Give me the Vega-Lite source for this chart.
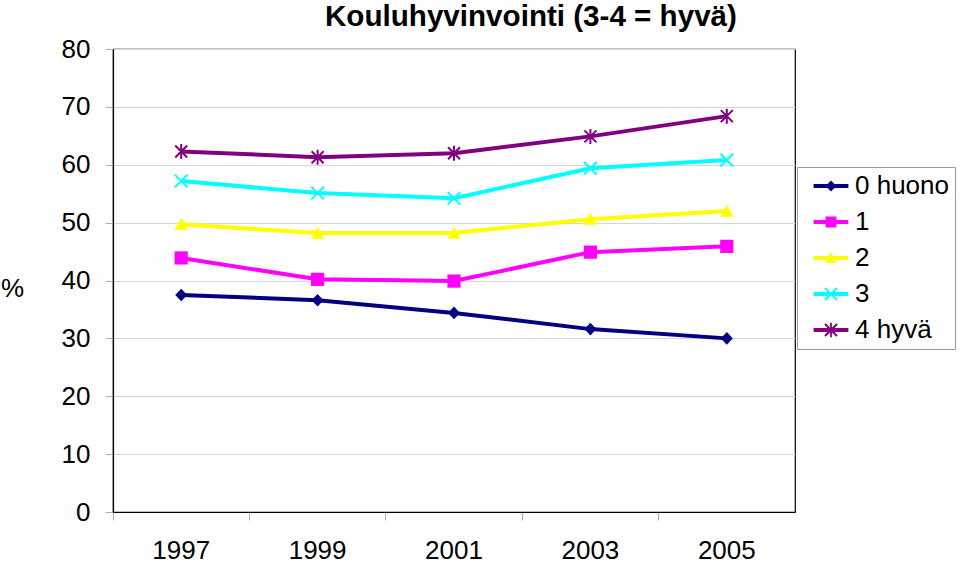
{
  "$schema": "https://vega.github.io/schema/vega-lite/v6.json",
  "autosize": {"type": "none"},
  "width": 682,
  "height": 463,
  "padding": {"left": 113, "top": 49, "right": 165, "bottom": 50},
  "background": "white",
  "title": {
    "text": "Kouluhyvinvointi (3-4 = hyvä)",
    "anchor": "start",
    "frame": "group",
    "dx": 212,
    "dy": 31,
    "offset": 11,
    "baseline": "alphabetic",
    "font": "Liberation Sans",
    "fontSize": 29.6,
    "fontWeight": "bold",
    "color": "#000"
  },
  "config": {
    "view": {"stroke": "#000", "strokeWidth": 1.2},
    "font": "Liberation Sans"
  },
  "data": {
    "values": [
      {"year": "1997", "series": "0 huono", "value": 37.5},
      {"year": "1999", "series": "0 huono", "value": 36.6},
      {"year": "2001", "series": "0 huono", "value": 34.4},
      {"year": "2003", "series": "0 huono", "value": 31.6},
      {"year": "2005", "series": "0 huono", "value": 30.0},
      {"year": "1997", "series": "1", "value": 43.9},
      {"year": "1999", "series": "1", "value": 40.2},
      {"year": "2001", "series": "1", "value": 39.9},
      {"year": "2003", "series": "1", "value": 44.9},
      {"year": "2005", "series": "1", "value": 45.9},
      {"year": "1997", "series": "2", "value": 49.7},
      {"year": "1999", "series": "2", "value": 48.2},
      {"year": "2001", "series": "2", "value": 48.2},
      {"year": "2003", "series": "2", "value": 50.6},
      {"year": "2005", "series": "2", "value": 52.0},
      {"year": "1997", "series": "3", "value": 57.2},
      {"year": "1999", "series": "3", "value": 55.1},
      {"year": "2001", "series": "3", "value": 54.2},
      {"year": "2003", "series": "3", "value": 59.4},
      {"year": "2005", "series": "3", "value": 60.8},
      {"year": "1997", "series": "4 hyvä", "value": 62.3},
      {"year": "1999", "series": "4 hyvä", "value": 61.3},
      {"year": "2001", "series": "4 hyvä", "value": 62.0},
      {"year": "2003", "series": "4 hyvä", "value": 64.9},
      {"year": "2005", "series": "4 hyvä", "value": 68.4}
    ]
  },
  "encoding": {
    "x": {
      "field": "year",
      "type": "ordinal",
      "bandPosition": 0.5,
      "scale": {"type": "band", "paddingInner": 0, "paddingOuter": 0},
      "axis": {
        "title": null,
        "labelAngle": 0,
        "bandPosition": 0,
        "labelFontSize": 26,
        "labelColor": "#000",
        "labelPadding": 17,
        "tickColor": "#b0b0b0",
        "tickSize": 8,
        "domainColor": "#000",
        "domainWidth": 1.2,
        "grid": false
      }
    },
    "y": {
      "field": "value",
      "type": "quantitative",
      "scale": {"domain": [0, 80], "nice": false, "zero": true},
      "axis": {
        "values": [0, 10, 20, 30, 40, 50, 60, 70, 80],
        "title": "%",
        "titleAngle": 0,
        "titleX": -101,
        "titleY": 239,
        "titleAlign": "center",
        "titleBaseline": "middle",
        "titleFontSize": 26,
        "titleFontWeight": "normal",
        "titleColor": "#000",
        "labelFontSize": 26,
        "labelColor": "#000",
        "labelPadding": 15,
        "tickColor": "#b0b0b0",
        "tickSize": 8,
        "domainColor": "#000",
        "domainWidth": 1.2,
        "grid": true,
        "gridColor": "#d4d4d4",
        "gridWidth": 1.2
      }
    }
  },
  "layer": [
    {
      "transform": [{"filter": "datum.series === '0 huono'"}],
      "mark": {"type": "line", "strokeWidth": 4, "color": "#000080",
        "point": {"filled": true, "opacity": 1, "shape": "M0,-1.05L1,0L0,1.05L-1,0Z", "size": 144, "color": "#000080"}}
    },
    {
      "transform": [{"filter": "datum.series === '1'"}],
      "mark": {"type": "line", "strokeWidth": 4, "color": "#FF00FF",
        "point": {"filled": true, "opacity": 1, "shape": "M-1.1,-1.1L1.1,-1.1L1.1,1.1L-1.1,1.1Z", "size": 144, "color": "#FF00FF"}}
    },
    {
      "transform": [{"filter": "datum.series === '2'"}],
      "mark": {"type": "line", "strokeWidth": 4, "color": "#FFFF00",
        "point": {"filled": true, "opacity": 1, "shape": "M0,-1.1L1.1,0.95L-1.1,0.95Z", "size": 144, "color": "#FFFF00"}}
    },
    {
      "transform": [{"filter": "datum.series === '3'"}],
      "mark": {"type": "line", "strokeWidth": 4, "color": "#00FFFF",
        "point": {"filled": false, "opacity": 1, "shape": "M-1.05,-1.05L1.05,1.05M-1.05,1.05L1.05,-1.05", "size": 144, "color": "#00FFFF", "strokeWidth": 2}}
    },
    {
      "transform": [{"filter": "datum.series === '4 hyvä'"}],
      "mark": {"type": "line", "strokeWidth": 4, "color": "#800080",
        "point": {"filled": false, "opacity": 1, "shape": "M-1,-1L1,1M-1,1L1,-1M0,-1.25L0,1.25", "size": 144, "color": "#800080", "strokeWidth": 2}}
    },
    {
      "transform": [{"filter": "datum.value < 0"}],
      "mark": {"type": "point", "filled": true, "opacity": 1, "size": 144},
      "encoding": {
        "color": {
          "field": "series",
          "type": "nominal",
          "scale": {
            "domain": ["0 huono", "1", "2", "3", "4 hyvä"],
            "range": ["#000080", "#FF00FF", "#FFFF00", "#00FFFF", "#800080"]
          },
          "legend": {
            "title": null,
            "orient": "none",
            "legendX": 684,
            "legendY": 118,
            "padding": 6,
            "rowPadding": 10,
            "strokeColor": "#999",
            "fillColor": "white",
            "labelFontSize": 26,
            "labelColor": "#000",
            "labelFont": "Liberation Sans",
            "symbolSize": 144,
            "symbolStrokeWidth": 0,
            "symbolOpacity": 1,
            "symbolOffset": 15,
            "labelOffset": 11,
            "labelLimit": 300
          }
        },
        "shape": {
          "field": "series",
          "type": "nominal",
          "scale": {
            "domain": ["0 huono", "1", "2", "3", "4 hyvä"],
            "range": [
              "M-2.9,-0.33L2.9,-0.33L2.9,0.33L-2.9,0.33ZM0,-0.9L0.9,0L0,0.9L-0.9,0Z",
              "M-2.9,-0.33L2.9,-0.33L2.9,0.33L-2.9,0.33ZM-0.9,-0.9L0.9,-0.9L0.9,0.9L-0.9,0.9Z",
              "M-2.9,-0.33L2.9,-0.33L2.9,0.33L-2.9,0.33ZM0,-1L1,0.85L-1,0.85Z",
              "M-2.9,-0.33L2.9,-0.33L2.9,0.33L-2.9,0.33ZM-0.88,-1.12L1.12,0.88L0.88,1.12L-1.12,-0.88ZM-1.12,0.88L0.88,-1.12L1.12,-0.88L-0.88,1.12Z",
              "M-2.9,-0.33L2.9,-0.33L2.9,0.33L-2.9,0.33ZM-0.88,-1.12L1.12,0.88L0.88,1.12L-1.12,-0.88ZM-1.12,0.88L0.88,-1.12L1.12,-0.88L-0.88,1.12ZM-0.15,-1.2L0.15,-1.2L0.15,1.2L-0.15,1.2Z"
            ]
          }
        }
      }
    }
  ]
}
